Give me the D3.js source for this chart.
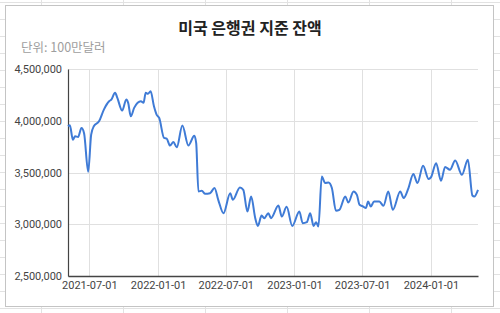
<!DOCTYPE html>
<html>
<head>
<meta charset="utf-8">
<script src="https://cdn.jsdelivr.net/npm/d3@7"></script>
<style>
  body { margin: 0; background: #fff; }
  svg { display: block; }
</style>
</head>
<body>
<svg id="chart" width="500" height="313"></svg>
<script>
const title = '미국 은행권 지준 잔액';
const unitLabel = '단위: 100만달러';

// (weekly-ish turning points)
const dates = [
  '2021-05-05','2021-05-10','2021-05-18','2021-05-24','2021-06-01','2021-06-10','2021-06-17','2021-06-28',
  '2021-07-06','2021-07-13','2021-07-27','2021-08-09','2021-08-23','2021-08-29','2021-09-08','2021-09-14',
  '2021-09-27','2021-10-08','2021-10-13','2021-10-20','2021-10-29','2021-11-16','2021-11-23','2021-11-29',
  '2021-12-05','2021-12-12','2021-12-21','2021-12-28','2022-01-04','2022-01-17','2022-01-24','2022-02-02',
  '2022-02-11','2022-02-20','2022-03-07','2022-03-23','2022-04-08','2022-04-13','2022-04-19','2022-04-28',
  '2022-05-07','2022-05-20','2022-06-01','2022-06-11','2022-06-25','2022-07-13','2022-07-20','2022-08-08',
  '2022-08-17','2022-08-28','2022-09-07','2022-09-18','2022-09-25','2022-10-05','2022-10-12','2022-10-23',
  '2022-10-30','2022-11-19','2022-11-28','2022-12-11','2022-12-26','2023-01-14','2023-01-23','2023-02-03',
  '2023-02-12','2023-02-21','2023-02-28','2023-03-06','2023-03-15','2023-03-24','2023-04-02','2023-04-11',
  '2023-04-22','2023-05-01','2023-05-17','2023-05-25','2023-06-08','2023-06-17','2023-06-24','2023-07-04',
  '2023-07-11','2023-07-17','2023-07-24','2023-08-02','2023-08-16','2023-08-27','2023-09-09','2023-09-21',
  '2023-10-11','2023-10-20','2023-11-02','2023-11-15','2023-11-26','2023-12-11','2023-12-26','2024-01-01',
  '2024-01-15','2024-01-28','2024-02-08','2024-02-21','2024-03-06','2024-03-24','2024-04-09','2024-04-21',
  '2024-04-26','2024-05-06'
];
const reserves = [
  3946000,3956000,3817000,3850000,3843000,3930000,3880000,3508000,
  3866000,3946000,3994000,4108000,4188000,4205000,4270000,4221000,
  4098000,4205000,4173000,4043000,4124000,4188000,4173000,4270000,
  4260000,4285000,4140000,4060000,4027000,3834000,3827000,3760000,
  3795000,3743000,3953000,3762000,3856000,3785000,3317000,3323000,
  3294000,3300000,3350000,3236000,3107000,3300000,3236000,3355000,
  3333000,3123000,3268000,3059000,2984000,3084000,3059000,3107000,
  3059000,3181000,3074000,3168000,2984000,3123000,3010000,3020000,
  3107000,2984000,3020000,2978000,3462000,3398000,3404000,3350000,
  3130000,3139000,3268000,3210000,3317000,3284000,3188000,3171000,
  3156000,3220000,3171000,3220000,3220000,3178000,3317000,3139000,
  3317000,3253000,3350000,3485000,3398000,3565000,3437000,3452000,
  3590000,3420000,3553000,3527000,3617000,3478000,3623000,3278000,
  3268000,3333000
];
const yTicks = [2500000, 3000000, 3500000, 4000000, 4500000];
const xTickDates = ['2021-07-01','2022-01-01','2022-07-01','2023-01-01','2023-07-01','2024-01-01'];

const parse = d3.timeParse('%Y-%m-%d');
const data = dates.map((d, i) => ({ date: parse(d), value: reserves[i] }));

const svg = d3.select('#chart');
const W = 500, H = 313;

/* spreadsheet grid behind the chart */
const bg = svg.append('g');
for (let x = 41; x < W; x += 82) {
  bg.append('line').attr('x1', x + 0.5).attr('x2', x + 0.5).attr('y1', 0).attr('y2', H)
    .attr('stroke', '#e2e2e2');
}
for (let y = 2; y < H; y += 17) {
  bg.append('line').attr('x1', 0).attr('x2', W).attr('y1', y + 0.5).attr('y2', y + 0.5)
    .attr('stroke', '#e2e2e2');
}

/* chart box */
svg.append('rect')
  .attr('x', 5.5).attr('y', 5.5).attr('width', 488).attr('height', 301)
  .attr('fill', '#fff').attr('stroke', '#c4c4c4');

const margin = { left: 68, right: 22, top: 69, bottom: 37 };
const x = d3.scaleTime()
  .domain(d3.extent(data, (d) => d.date))
  .range([margin.left, W - margin.right]);
const y = d3.scaleLinear()
  .domain([2500000, 4500000])
  .range([H - margin.bottom, margin.top]);

const fmt = d3.format(',');

/* gridlines */
svg.append('g')
  .selectAll('line.h')
  .data(yTicks)
  .enter().append('line')
  .attr('x1', margin.left).attr('x2', W - margin.right)
  .attr('y1', (d) => Math.round(y(d)) + 0.5).attr('y2', (d) => Math.round(y(d)) + 0.5)
  .attr('stroke', '#e0e0e0');

svg.append('g')
  .selectAll('line.v')
  .data(xTickDates.map(parse))
  .enter().append('line')
  .attr('x1', (d) => Math.round(x(d)) + 0.5).attr('x2', (d) => Math.round(x(d)) + 0.5)
  .attr('y1', margin.top).attr('y2', H - margin.bottom)
  .attr('stroke', '#e0e0e0');

/* axes */
const yAxis = svg.append('g')
  .attr('transform', `translate(${margin.left},0)`)
  .call(d3.axisLeft(y).tickValues(yTicks).tickFormat(fmt).tickSize(0).tickPadding(6));
yAxis.select('.domain').attr('stroke', '#444').attr('stroke-width', 1.2);
yAxis.selectAll('text')
  .attr('fill', '#444').attr('font-size', 11).attr('font-family', 'Roboto, sans-serif');

const xAxis = svg.append('g')
  .attr('transform', `translate(0,${H - margin.bottom})`)
  .call(d3.axisBottom(x).tickValues(xTickDates.map(parse)).tickFormat(d3.timeFormat('%Y-%m-%d'))
    .tickSize(0).tickPadding(5));
xAxis.select('.domain').attr('stroke', '#444').attr('stroke-width', 1.4);
xAxis.selectAll('text')
  .attr('fill', '#444').attr('font-size', 11).attr('font-family', 'Roboto, sans-serif');

/* the line */
const line = d3.line()
  .x((d) => x(d.date))
  .y((d) => y(d.value))
  .curve(d3.curveMonotoneX);

svg.append('path')
  .datum(data)
  .attr('d', line)
  .attr('fill', 'none')
  .attr('stroke', '#3f7bd6')
  .attr('stroke-width', 2)
  .attr('stroke-linejoin', 'round');

/* titles */
svg.append('text')
  .attr('x', 250).attr('y', 34)
  .attr('text-anchor', 'middle')
  .attr('font-family', '"Noto Sans CJK KR", sans-serif')
  .attr('font-size', 16).attr('font-weight', 'bold')
  .attr('fill', '#222')
  .text(title);

svg.append('text')
  .attr('x', 21).attr('y', 52)
  .attr('font-family', '"Noto Sans CJK KR", sans-serif')
  .attr('font-size', 12.5)
  .attr('fill', '#9e9e9e')
  .text(unitLabel);
</script>
</body>
</html>
